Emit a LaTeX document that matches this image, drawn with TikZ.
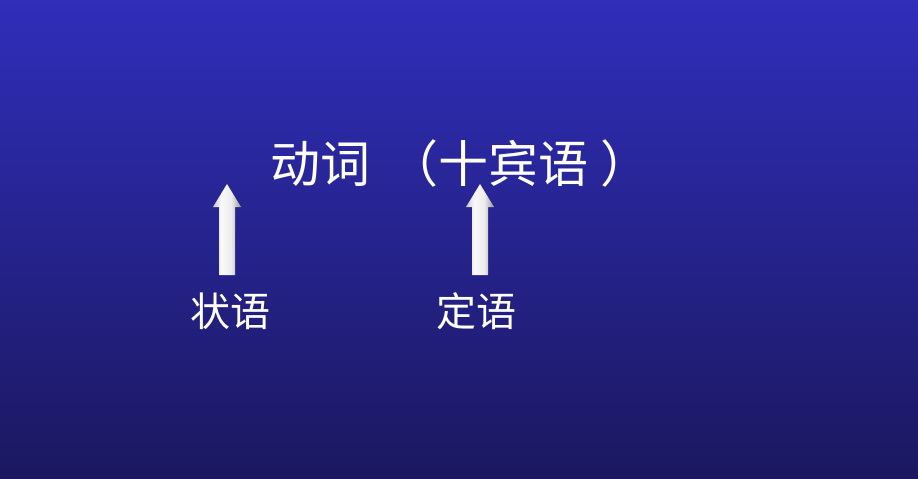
\documentclass[tikz,border=0pt]{standalone}
\usepackage{fontspec}
\newfontfamily\cjk{Noto Sans CJK SC}
\usetikzlibrary{calc}
\definecolor{bgtop}{RGB}{48,46,186}
\definecolor{bgbot}{RGB}{27,24,96}
\definecolor{arrL}{RGB}{200,200,200}
\definecolor{arrM}{RGB}{250,250,250}
\definecolor{arrN}{RGB}{235,235,235}
\definecolor{arrR}{RGB}{150,150,150}
\pgfdeclarehorizontalshading{arrowshade}{100bp}{%
  color(0bp)=(arrL); color(25bp)=(arrL); color(40bp)=(arrM);
  color(58bp)=(arrN); color(75bp)=(arrR); color(100bp)=(arrR)}
\tikzset{
  titletext/.style={text=white,inner sep=0pt,font=\cjk\fontsize{50}{52}\selectfont},
  labeltext/.style={text=white,inner sep=0pt,font=\cjk\fontsize{40}{42}\selectfont},
  arrowfill/.style={shading=arrowshade,draw=none}
}
\newcommand\fatarrow[2]{%
  \shade[arrowfill] let \p1=(#1), \p2=(#2) in
    (\x1-8pt,\y1) -- (\x1-8pt,\y2-23pt) -- (\x1-14pt,\y2-23pt) -- (\x1,\y2)
    -- (\x1+14pt,\y2-23pt) -- (\x1+8pt,\y2-23pt) -- (\x1+8pt,\y1) -- cycle;}
\begin{document}
\begin{tikzpicture}[x=1pt,y=-1pt]
\shade[top color=bgtop,bottom color=bgbot] (0,0) rectangle (918,479);
\useasboundingbox (0,0) rectangle (918,479);
\node[titletext,anchor=west] (title) at (270,163) {动词\hspace{18pt}（十宾语\hspace{12pt}）};
\node[labeltext] (adv) at (230,311) {状语};
\node[labeltext] (attr) at (476,311) {定语};
\coordinate (a1base) at (227,275);
\coordinate (a1tip) at (227,184);
\coordinate (a2base) at (480,275);
\coordinate (a2tip) at (480,184);
\fatarrow{a1base}{a1tip}
\fatarrow{a2base}{a2tip}
\end{tikzpicture}
\end{document}
